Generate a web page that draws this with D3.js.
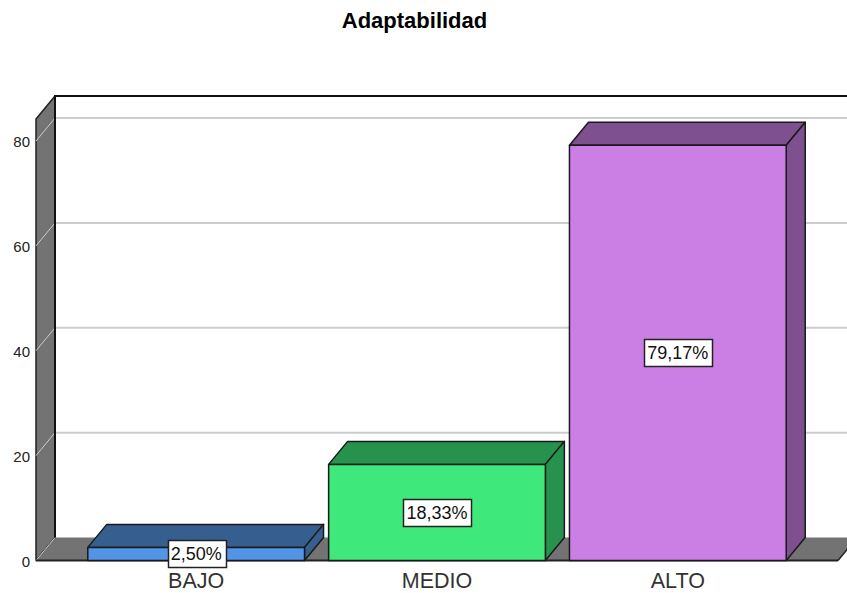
<!DOCTYPE html>
<html>
<head>
<meta charset="utf-8">
<script src="https://cdn.jsdelivr.net/npm/d3@7"></script>
<style>
	html, body { margin: 0; padding: 0; background: #fff; overflow: hidden; }
	text { font-family: "Liberation Sans", Arial, sans-serif; }
</style>
</head>
<body>
<div id="chart"></div>
<script>
"use strict";

const chartTitle = "Adaptabilidad";
const categories = ["BAJO", "MEDIO", "ALTO"];
const percents = [2.5, 18.33, 79.17];
const percentLabels = ["2,50%", "18,33%", "79,17%"];
const yTicks = [0, 20, 40, 60, 80];
const frontColors = ["#5294e6", "#3fe87a", "#cb7fe5"];
const darkColors = ["#365e8f", "#27924e", "#7f5090"];

const width = 847;
const height = 593;
const left = 36;
const right = 838;
const bottom = 560.5;
const wallTop = 84.2; // axis value at the top of the back wall
const dx = 19; // 3d depth
const dy = -23;

const svg = d3
	.select("#chart")
	.append("svg")
	.attr("width", width)
	.attr("height", height)
	.style("display", "block");

const y = d3.scaleLinear().domain([0, 80]).range([bottom, 141]);
const x = d3
	.scaleBand()
	.domain(categories)
	.range([left, right])
	.paddingInner(0.1)
	.paddingOuter(0.215);

const line = d3.line();

function poly(points, fill, stroke, strokeWidth) {
	return svg
		.append("path")
		.attr("d", line(points) + "Z")
		.attr("fill", fill)
		.attr("stroke", stroke)
		.attr("stroke-width", strokeWidth)
		.attr("stroke-linejoin", "round");
}

// Title
svg
	.append("text")
	.attr("x", 414.5)
	.attr("y", 28)
	.attr("text-anchor", "middle")
	.attr("font-size", 22)
	.attr("font-weight", "bold")
	.attr("fill", "#000")
	.text(chartTitle);

// Left wall and floor
poly(
	[
		[left, y(0)],
		[left + dx, y(0) + dy],
		[left + dx, y(wallTop) + dy],
		[left, y(wallTop)],
	],
	"#737373",
	"#222",
	1.5
);
poly(
	[
		[left, y(0)],
		[left + dx, y(0) + dy],
		[right + dx, y(0) + dy],
		[right, y(0)],
	],
	"#737373",
	"none",
	0
);

// Gridlines: along the side wall, then across the back
const grid = svg.append("g").attr("stroke", "#cccccc").attr("fill", "none");
yTicks.forEach((t) => {
	grid
		.append("line")
		.attr("x1", left)
		.attr("y1", y(t))
		.attr("x2", left + dx)
		.attr("y2", y(t) + dy)
		.attr("stroke-width", 1);
	if (t > 0) {
		grid
			.append("line")
			.attr("x1", left + dx)
			.attr("y1", y(t) + dy)
			.attr("x2", width)
			.attr("y2", y(t) + dy)
			.attr("stroke-width", 2);
	}
});

// Wall outline
svg
	.append("path")
	.attr(
		"d",
		line([
			[left + dx, y(0) + dy],
			[left + dx, y(wallTop) + dy],
			[width, y(wallTop) + dy],
		])
	)
	.attr("fill", "none")
	.attr("stroke", "#111")
	.attr("stroke-width", 2);

// Front edge of the floor
svg
	.append("line")
	.attr("x1", left)
	.attr("y1", y(0))
	.attr("x2", right)
	.attr("y2", y(0))
	.attr("stroke", "#222")
	.attr("stroke-width", 2);
svg
	.append("line")
	.attr("x1", right)
	.attr("y1", y(0))
	.attr("x2", right + dx)
	.attr("y2", y(0) + dy)
	.attr("stroke", "#222")
	.attr("stroke-width", 1.5);

// Bars
categories.forEach((c, i) => {
	const x0 = x(c);
	const x1 = x0 + x.bandwidth();
	const yTop = y(percents[i]);
	const y0 = y(0);
	// top
	poly(
		[
			[x0, yTop],
			[x0 + dx, yTop + dy],
			[x1 + dx, yTop + dy],
			[x1, yTop],
		],
		darkColors[i],
		"#1a1a1a",
		1.5
	);
	// side
	poly(
		[
			[x1, yTop],
			[x1 + dx, yTop + dy],
			[x1 + dx, y0 + dy],
			[x1, y0],
		],
		darkColors[i],
		"#1a1a1a",
		1.5
	);
	// front
	poly(
		[
			[x0, yTop],
			[x1, yTop],
			[x1, y0],
			[x0, y0],
		],
		frontColors[i],
		"#1a1a1a",
		1.5
	);
});

// Y axis tick labels
svg
	.append("g")
	.selectAll("text")
	.data(yTicks)
	.join("text")
	.attr("x", 30)
	.attr("y", (d) => y(d) + 6)
	.attr("text-anchor", "end")
	.attr("font-size", 15)
	.attr("fill", "#222")
	.text((d) => d);

// Category labels
svg
	.append("g")
	.selectAll("text")
	.data(categories)
	.join("text")
	.attr("x", (d) => x(d) + x.bandwidth() / 2)
	.attr("y", 588)
	.attr("text-anchor", "middle")
	.attr("font-size", 21.5)
	.attr("fill", "#333")
	.text((d) => d);

// Value labels in white boxes
categories.forEach((c, i) => {
	const cx = x(c) + x.bandwidth() / 2;
	const cy = y(percents[i] / 2);
	const label = svg.append("g");
	const txt = label
		.append("text")
		.attr("x", cx)
		.attr("y", cy + 6.5)
		.attr("text-anchor", "middle")
		.attr("font-size", 18)
		.attr("fill", "#111")
		.text(percentLabels[i]);
	const box = txt.node().getBBox();
	label
		.insert("rect", "text")
		.attr("x", Math.round(cx - box.width / 2 - 3) + 0.5)
		.attr("y", Math.round(cy - 13.5) + 0.5)
		.attr("width", Math.round(box.width + 7))
		.attr("height", 27)
		.attr("fill", "#fff")
		.attr("stroke", "#222")
		.attr("stroke-width", 1.5);
});
</script>
</body>
</html>
